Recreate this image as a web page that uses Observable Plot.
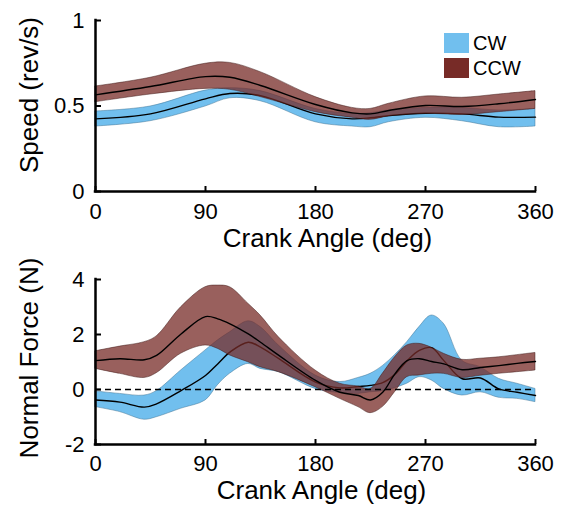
<!DOCTYPE html>
<html>
<head>
<meta charset="utf-8">
<script src="https://cdn.jsdelivr.net/npm/d3@7"></script>
<script src="https://cdn.jsdelivr.net/npm/@observablehq/plot@0.6"></script>
<style>
  html, body { margin: 0; padding: 0; background: #fff; }
  #wrap { position: relative; width: 567px; height: 511px; font-family: "Liberation Sans", Arial, sans-serif; }
  #wrap svg { display: block; overflow: visible; }
  .legend { position: absolute; left: 444px; top: 33px; font-size: 20px; color: #000; }
  .legend .row { display: flex; align-items: center; height: 20px; margin-bottom: 5px; }
  .legend .sw { width: 25px; height: 20px; margin-right: 4px; }
</style>
</head>
<body>
<div id="wrap"></div>
<script>
// ---------- data ----------
const xTicks = [0, 90, 180, 270, 360];
const speedTicks = [0, 0.5, 1];
const forceTicks = [-2, 0, 2, 4];
const seriesNames = ["CW", "CCW"];
const seriesColors = ["#71BFEE", "#772B27"];

// Speed panel
const angleSpeed    = [0, 45, 90, 110, 135, 180, 210, 225, 240, 270, 300, 330, 360];
const speedCWMean   = [0.425, 0.454, 0.542, 0.573, 0.561, 0.454, 0.425, 0.431, 0.444, 0.458, 0.454, 0.435, 0.435];
const speedCWLo     = [0.380, 0.411, 0.497, 0.545, 0.528, 0.405, 0.380, 0.376, 0.405, 0.431, 0.411, 0.376, 0.380];
const speedCWHi     = [0.468, 0.497, 0.590, 0.604, 0.587, 0.483, 0.454, 0.458, 0.474, 0.489, 0.489, 0.474, 0.483];
const speedCCWMean  = [0.565, 0.614, 0.672, 0.668, 0.620, 0.509, 0.460, 0.454, 0.474, 0.503, 0.497, 0.513, 0.538];
const speedCCWLo    = [0.522, 0.567, 0.600, 0.595, 0.552, 0.464, 0.431, 0.419, 0.439, 0.454, 0.448, 0.464, 0.483];
const speedCCWHi    = [0.614, 0.665, 0.747, 0.752, 0.698, 0.552, 0.489, 0.483, 0.513, 0.556, 0.548, 0.567, 0.587];

// Normal force panel
const angleForce    = [0, 20, 40, 50, 70, 90, 100, 110, 125, 135, 150, 180, 200, 215, 225, 235, 245, 255, 265, 275, 285, 300, 315, 330, 345, 360];
const forceCWMean   = [-0.38, -0.46, -0.64, -0.52, -0.04, 0.51, 0.93, 1.36, 1.72, 1.54, 1.12, 0.27, 0.06, 0.11, 0.15, 0.25, 0.55, 1.05, 1.42, 1.52, 1.05, 0.39, 0.42, 0.02, -0.10, -0.22];
const forceCWLo     = [-0.64, -0.82, -1.10, -1.01, -0.70, -0.40, 0.15, 0.57, 0.93, 0.75, 0.63, 0.02, -0.13, -0.16, -0.10, -0.06, 0.05, 0.21, 0.45, 0.33, 0.02, -0.22, -0.10, -0.30, -0.34, -0.46];
const forceCWHi     = [-0.07, -0.16, -0.22, -0.06, 0.69, 1.42, 1.78, 2.08, 2.48, 2.27, 1.60, 0.51, 0.27, 0.42, 0.57, 0.85, 1.25, 1.72, 2.27, 2.69, 2.39, 1.05, 0.81, 0.39, 0.21, 0.02];
const forceCCWMean  = [1.05, 1.12, 1.08, 1.24, 2.02, 2.65, 2.57, 2.39, 2.02, 1.72, 1.24, 0.33, -0.10, -0.22, -0.38, -0.10, 0.57, 1.05, 1.12, 1.02, 0.93, 0.72, 0.80, 0.87, 0.95, 1.02];
const forceCCWLo    = [0.75, 0.57, 0.42, 0.59, 1.30, 1.60, 1.48, 1.24, 0.99, 0.81, 0.63, 0.08, -0.34, -0.64, -0.86, -0.64, -0.10, 0.45, 0.51, 0.57, 0.57, 0.42, 0.50, 0.57, 0.63, 0.69];
const forceCCWHi    = [1.39, 1.56, 1.72, 1.93, 2.99, 3.72, 3.78, 3.72, 3.12, 2.69, 1.90, 0.69, 0.21, 0.11, 0.02, 0.57, 1.17, 1.60, 1.66, 1.52, 1.30, 1.08, 1.12, 1.17, 1.25, 1.33];

// ---------- helpers ----------
const FONT = '"Liberation Sans", Arial, sans-serif';
const rows = (xs, mean, lo, hi) => xs.map((x, i) => ({x, mean: mean[i], lo: lo[i], hi: hi[i]}));

function bandMark(data, color, opacity, edge) {
  return Plot.areaY(data, {x: "x", y1: "lo", y2: "hi", curve: "catmull-rom", fill: color, fillOpacity: opacity,
                           stroke: edge, strokeWidth: 0.6, strokeOpacity: 0.8});
}
function meanMark(data) {
  return Plot.lineY(data, {x: "x", y: "mean", curve: "catmull-rom", stroke: "#000", strokeWidth: 1.4});
}

function panel({height, marginTop, marginBottom, yDomain, yTicks, yLabel, yLabelDy, tickPad, xLabelDx, xLabelDy, cw, ccw, zeroLine}) {
  const marginLeft = 95, marginRight = 32, width = 567;
  const frameW = width - marginLeft - marginRight;
  const frameH = height - marginTop - marginBottom;
  return Plot.plot({
    width, height, marginLeft, marginRight, marginTop, marginBottom,
    style: {fontFamily: FONT, background: "transparent", color: "#000"},
    x: {domain: [0, 360]},
    y: {domain: yDomain},
    marks: [
      bandMark(cw, seriesColors[0], 1, "#3d6f8f"),
      meanMark(cw),
      bandMark(ccw, seriesColors[1], 0.75, "#3a1512"),
      meanMark(ccw),
      zeroLine ? Plot.ruleY([0], {stroke: "#000", strokeWidth: 1.5, strokeDasharray: "6,4"}) : null,
      // axis lines
      Plot.ruleX([0], {stroke: "#000", strokeWidth: 2.5, strokeLinecap: "square"}),
      Plot.ruleY([yDomain[0]], {stroke: "#000", strokeWidth: 2.5, strokeLinecap: "square"}),
      // inward ticks
      Plot.ruleX(xTicks, {x: d => d, insetTop: frameH - 5, stroke: "#000", strokeWidth: 2}),
      Plot.ruleY(yTicks, {y: d => d, insetRight: frameW - 6, stroke: "#000", strokeWidth: 2}),
      // tick labels
      Plot.axisX({ticks: xTicks, tickSize: 0, tickPadding: tickPad, fontSize: 22, label: null, tickFormat: d => String(d)}),
      Plot.axisY({ticks: yTicks, tickSize: 0, tickPadding: 11, fontSize: 22, label: null, tickFormat: d => String(d)}),
      // axis titles
      Plot.text(["Crank Angle (deg)"], {frameAnchor: "bottom", textAnchor: "middle", dx: xLabelDx, dy: xLabelDy, fontSize: 26, fill: "#000"}),
      Plot.text([yLabel], {frameAnchor: "left", textAnchor: "middle", rotate: -90, dx: -66, dy: yLabelDy, fontSize: 26, fill: "#000"})
    ]
  });
}

const wrap = document.getElementById("wrap");

const speedChart = panel({
  height: 262, marginTop: 20, marginBottom: 71,
  yDomain: [0, 1], yTicks: speedTicks, yLabel: "Speed (rev/s)", yLabelDy: -11,
  tickPad: 12, xLabelDx: 12, xLabelDy: 55,
  cw: rows(angleSpeed, speedCWMean, speedCWLo, speedCWHi),
  ccw: rows(angleSpeed, speedCCWMean, speedCCWLo, speedCCWHi),
  zeroLine: false
});
wrap.appendChild(speedChart);

const forceChart = panel({
  height: 249, marginTop: 17, marginBottom: 67,
  yDomain: [-2, 4], yTicks: forceTicks, yLabel: "Normal Force (N)", yLabelDy: -4,
  tickPad: 11, xLabelDx: 6, xLabelDy: 54,
  cw: rows(angleForce, forceCWMean, forceCWLo, forceCWHi),
  ccw: rows(angleForce, forceCCWMean, forceCCWLo, forceCCWHi),
  zeroLine: true
});
wrap.appendChild(forceChart);

// legend
const legend = document.createElement("div");
legend.className = "legend";
seriesNames.forEach((name, i) => {
  const row = document.createElement("div");
  row.className = "row";
  const sw = document.createElement("div");
  sw.className = "sw";
  sw.style.background = seriesColors[i];
  const t = document.createElement("span");
  t.textContent = name;
  row.appendChild(sw);
  row.appendChild(t);
  legend.appendChild(row);
});
wrap.appendChild(legend);
</script>
</body>
</html>
